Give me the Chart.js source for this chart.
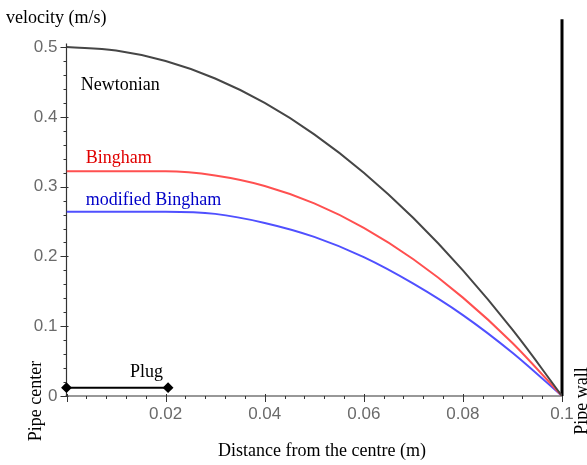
<!DOCTYPE html>
<html>
<head>
<meta charset="utf-8">
<script src="https://cdn.jsdelivr.net/npm/chart.js@4/dist/chart.umd.min.js"></script>
<style>
  body { margin: 0; background: #fff; }
  #wrap { width: 587px; height: 465px; position: relative; }
</style>
</head>
<body>
<div id="wrap"><canvas id="myChart"></canvas></div>
<script>
// distance from the centre (m)
var radius = [0, 0.01, 0.02, 0.03, 0.04, 0.05, 0.06, 0.07, 0.08, 0.09, 0.1];
// velocity (m/s)
var newtonian = [0.5, 0.495, 0.48, 0.455, 0.42, 0.375, 0.32, 0.255, 0.18, 0.095, 0];
var bingham = [0.322, 0.322, 0.322, 0.316, 0.301, 0.276, 0.241, 0.196, 0.141, 0.076, 0];
var modBingham = [0.264, 0.264, 0.264, 0.261, 0.248, 0.228, 0.199, 0.161, 0.116, 0.062, 0];

var plugX = [0, 0.0205];
var plugY = [0.012, 0.012];
var wallX = [0.1, 0.1];
var wallY = [0, 0.54];

var xTicks = [0.02, 0.04, 0.06, 0.08, 0.1];
var xTickLabels = ['0.02', '0.04', '0.06', '0.08', '0.1'];
var yTicks = [0, 0.1, 0.2, 0.3, 0.4, 0.5];
var yTickLabels = ['0', '0.1', '0.2', '0.3', '0.4', '0.5'];

function pts(xs, ys) {
    return xs.map((x, i) => ({ x: x, y: ys[i] }));
}

const serif = '"Liberation Serif", "Times New Roman", serif';

// maple style axes with crossing ticks
const axesPlugin = {
    id: 'mapleAxes',
    beforeDatasetsDraw(chart) {
        const ctx = chart.ctx;
        const xs = chart.scales.x, ys = chart.scales.y;
        const x0 = xs.getPixelForValue(0), y0 = ys.getPixelForValue(0);
        ctx.save();
        ctx.strokeStyle = '#333';
        ctx.lineWidth = 1.2;
        ctx.beginPath();
        ctx.moveTo(x0, y0);
        ctx.lineTo(x0, ys.getPixelForValue(0.505));
        ctx.moveTo(x0 - 1, y0);
        ctx.lineTo(xs.getPixelForValue(0.1), y0);
        ctx.stroke();

        ctx.lineWidth = 1;
        ctx.beginPath();
        for (let i = 0; i <= 25; i++) {
            const py = Math.round(ys.getPixelForValue(i * 0.02)) + 0.5;
            const major = i % 5 == 0;
            ctx.moveTo(x0 - (major ? 6 : 3), py);
            ctx.lineTo(x0 + (major ? 2 : 0), py);
        }
        for (let i = 0; i <= 25; i++) {
            const px = Math.round(xs.getPixelForValue(i * 0.004)) + 0.5;
            const major = i % 5 == 0;
            ctx.moveTo(px, y0 - (major ? 2 : 0));
            ctx.lineTo(px, y0 + (major ? 6 : 3));
        }
        ctx.stroke();
        ctx.restore();
    },
    afterDraw(chart) {
        const ctx = chart.ctx;
        const xs = chart.scales.x, ys = chart.scales.y;
        ctx.save();
        ctx.font = '18px ' + serif;
        ctx.textBaseline = 'middle';
        ctx.textAlign = 'left';

        ctx.fillStyle = '#000';
        ctx.fillText('velocity (m/s)', 6, 18);
        ctx.fillText('Newtonian', xs.getPixelForValue(0.0029), ys.getPixelForValue(0.4455));
        ctx.fillText('Plug', xs.getPixelForValue(0.0128), ys.getPixelForValue(0.0336));
        ctx.fillStyle = '#e00000';
        ctx.fillText('Bingham', xs.getPixelForValue(0.0039), ys.getPixelForValue(0.340));
        ctx.fillStyle = '#0000c8';
        ctx.fillText('modified Bingham', xs.getPixelForValue(0.0039), ys.getPixelForValue(0.2805));

        ctx.fillStyle = '#000';
        ctx.textAlign = 'center';
        ctx.fillText('Distance from the centre (m)', 322, 451);

        ctx.translate(36, 401);
        ctx.rotate(-Math.PI / 2);
        ctx.fillText('Pipe center', 0, 0);
        ctx.restore();

        ctx.save();
        ctx.font = '18px ' + serif;
        ctx.fillStyle = '#000';
        ctx.textBaseline = 'middle';
        ctx.textAlign = 'center';
        ctx.translate(582, 401);
        ctx.rotate(-Math.PI / 2);
        ctx.fillText('Pipe wall', 0, 0);
        ctx.restore();
    }
};

const ctx = document.getElementById('myChart').getContext('2d');
const myChart = new Chart(ctx, {
    type: 'scatter',
    data: {
        datasets: [
            {
                label: 'Newtonian',
                data: pts(radius, newtonian),
                showLine: true,
                borderColor: 'rgb(70, 70, 70)',
                borderWidth: 2,
                pointRadius: 0,
                tension: 0.4
            },
            {
                label: 'Bingham',
                data: pts(radius, bingham),
                showLine: true,
                borderColor: 'rgb(255, 80, 80)',
                borderWidth: 2,
                pointRadius: 0,
                cubicInterpolationMode: 'monotone'
            },
            {
                label: 'modified Bingham',
                data: pts(radius, modBingham),
                showLine: true,
                borderColor: 'rgb(80, 80, 255)',
                borderWidth: 2,
                pointRadius: 0,
                cubicInterpolationMode: 'monotone'
            },
            {
                label: 'Plug',
                data: pts(plugX, plugY),
                showLine: true,
                borderColor: '#000',
                backgroundColor: '#000',
                borderWidth: 2,
                pointStyle: 'rectRot',
                pointRadius: 4,
                clip: false
            },
            {
                label: 'Pipe wall',
                data: pts(wallX, wallY),
                showLine: true,
                borderColor: '#000',
                borderWidth: 3,
                pointRadius: 0,
                clip: false
            }
        ]
    },
    options: {
        responsive: true,
        maintainAspectRatio: false,
        animation: false,
        layout: { padding: { top: 15, right: 25, left: 0, bottom: 0 } },
        plugins: {
            legend: { display: false },
            tooltip: { enabled: false }
        },
        scales: {
            x: {
                type: 'linear',
                min: 0,
                max: 0.1,
                grid: { display: false, drawTicks: false },
                border: { display: false },
                afterBuildTicks: scale => { scale.ticks = xTicks.map(v => ({ value: v })); },
                afterFit: scale => { scale.height = 69; },
                ticks: {
                    maxRotation: 0,
                    autoSkip: false,
                    padding: 8,
                    color: '#6a6a6a',
                    font: { family: '"Liberation Sans", Arial, sans-serif', size: 17 },
                    callback: v => xTickLabels[xTicks.indexOf(v)]
                }
            },
            y: {
                type: 'linear',
                min: 0,
                max: 0.54,
                grid: { display: false, drawTicks: false },
                border: { display: false },
                afterBuildTicks: scale => { scale.ticks = yTicks.map(v => ({ value: v })); },
                afterFit: scale => { scale.width = 66.5; },
                ticks: {
                    autoSkip: false,
                    padding: 9,
                    color: '#6a6a6a',
                    font: { family: '"Liberation Sans", Arial, sans-serif', size: 17 },
                    callback: v => yTickLabels[yTicks.indexOf(v)]
                }
            }
        }
    },
    plugins: [axesPlugin]
});
</script>
</body>
</html>
